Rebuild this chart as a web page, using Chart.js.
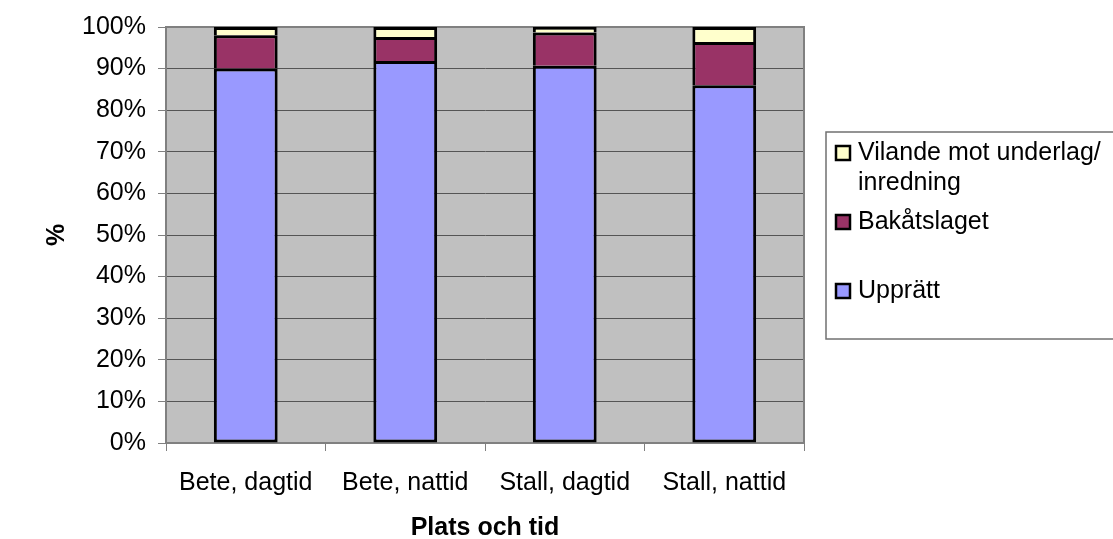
<!DOCTYPE html>
<html>
<head>
<meta charset="utf-8">
<script src="https://cdn.jsdelivr.net/npm/chart.js@4/dist/chart.umd.min.js"></script>
<style>
  html, body { margin: 0; padding: 0; background: #ffffff; overflow: hidden; }
  canvas { display: block; }
</style>
</head>
<body>
<canvas id="chart" width="1113" height="539"></canvas>
<script>
// Categories and stacked shares (percent of observations)
const categories = ['Bete, dagtid', 'Bete, nattid', 'Stall, dagtid', 'Stall, nattid'];
const upprattValues = [90, 91.8, 90.7, 86];
const bakatslagetValues = [8, 5.8, 8, 10.4];
const vilandeValues = [2, 2.4, 1.3, 3.6];

const seriesNames = ['Upprätt', 'Bakåtslaget', 'Vilande mot underlag/ inredning'];
const seriesColors = ['#9999FF', '#993366', '#FFFFCC'];
// Legend text, top entry first, wrapped as in the legend box
const legendLines = [['Vilande mot underlag/', 'inredning'], ['Bakåtslaget'], ['Upprätt']];

const yAxisTitle = '%';
const xAxisTitle = 'Plats och tid';

const FONT = "'Liberation Sans', Arial, sans-serif";
Chart.defaults.font.family = FONT;
Chart.defaults.color = '#000000';

// Grey plot area with a thin frame
const plotBackground = {
  id: 'plotBackground',
  beforeDraw(chart) {
    const { ctx, chartArea: a } = chart;
    ctx.save();
    ctx.fillStyle = '#C0C0C0';
    ctx.fillRect(a.left, a.top, a.right - a.left, a.bottom - a.top);
    ctx.restore();
  },
  beforeDatasetsDraw(chart) {
    const { ctx, chartArea: a } = chart;
    ctx.save();
    ctx.strokeStyle = '#808080';
    ctx.lineWidth = 2;
    ctx.beginPath();
    ctx.moveTo(a.left, a.top);
    ctx.lineTo(a.right, a.top);
    ctx.lineTo(a.right, a.bottom);
    ctx.stroke();
    ctx.restore();
  }
};

// Boxed legend on the right, entries listed from the top segment down
const boxedLegend = {
  id: 'boxedLegend',
  afterDraw(chart) {
    const ctx = chart.ctx;
    const box = { x: 826, y: 132, w: 300, h: 207 };
    const rows = [
      { ds: 2, lines: legendLines[0], y: [153, 183] },
      { ds: 1, lines: legendLines[1], y: [222] },
      { ds: 0, lines: legendLines[2], y: [291] }
    ];
    ctx.save();
    ctx.fillStyle = '#ffffff';
    ctx.fillRect(box.x, box.y, box.w, box.h);
    ctx.strokeStyle = '#707070';
    ctx.lineWidth = 1.5;
    ctx.strokeRect(box.x, box.y, box.w, box.h);
    ctx.font = '25px ' + FONT;
    ctx.textBaseline = 'middle';
    ctx.textAlign = 'left';
    rows.forEach(r => {
      const ds = chart.data.datasets[r.ds];
      const sy = r.y[0];
      ctx.fillStyle = ds.backgroundColor;
      ctx.fillRect(835, sy - 8, 16, 16);
      ctx.strokeStyle = '#000000';
      ctx.lineWidth = 2.5;
      ctx.strokeRect(836, sy - 7, 14, 14);
      ctx.fillStyle = '#000000';
      r.lines.forEach((t, i) => ctx.fillText(t, 858, r.y[i]));
    });
    ctx.restore();
  }
};

// Segments above the first share their lower edge with the segment below,
// so only the lowest segment draws a bottom border.
const valueSets = [upprattValues, bakatslagetValues, vilandeValues];
const datasets = valueSets.map((vals, i) => ({
  label: seriesNames[i],
  data: vals,
  backgroundColor: seriesColors[i],
  borderColor: '#000000',
  borderWidth: 3,
  borderSkipped: i === 0 ? false : 'bottom',
  categoryPercentage: 1.0,
  barPercentage: 0.4
}));

new Chart(document.getElementById('chart'), {
  type: 'bar',
  data: { labels: categories, datasets },
  options: {
    responsive: false,
    animation: false,
    devicePixelRatio: 1,
    layout: { padding: { left: 0, top: 25, right: 309, bottom: 0 } },
    plugins: {
      legend: { display: false },
      tooltip: { enabled: false }
    },
    scales: {
      x: {
        stacked: true,
        offset: true,
        grid: {
          display: true,
          offset: true,
          drawOnChartArea: false,
          drawTicks: true,
          tickLength: 8,
          color: '#808080',
          lineWidth: 1
        },
        border: { display: true, color: '#808080', width: 2 },
        ticks: { font: { size: 25 }, color: '#000000', padding: 17, maxRotation: 0 },
        title: {
          display: true,
          text: xAxisTitle,
          font: { size: 25, weight: 'bold', lineHeight: 1 },
          color: '#000000',
          padding: { top: 0, bottom: -2 }
        },
        afterFit(scale) { scale.height = 96; }
      },
      y: {
        stacked: true,
        min: 0,
        max: 100,
        ticks: {
          stepSize: 10,
          font: { size: 25 },
          color: '#000000',
          padding: 12,
          callback: v => v + '%'
        },
        grid: {
          color: '#555555',
          lineWidth: 1,
          drawTicks: true,
          tickLength: 8,
          tickColor: '#808080'
        },
        border: { display: true, color: '#808080', width: 2 },
        title: {
          display: true,
          text: yAxisTitle,
          font: { size: 25, weight: 'bold', lineHeight: 1 },
          color: '#000000',
          padding: { top: 45, bottom: 0 }
        },
        afterFit(scale) { scale.width = 166; }
      }
    }
  },
  plugins: [plotBackground, boxedLegend]
});
</script>
</body>
</html>
